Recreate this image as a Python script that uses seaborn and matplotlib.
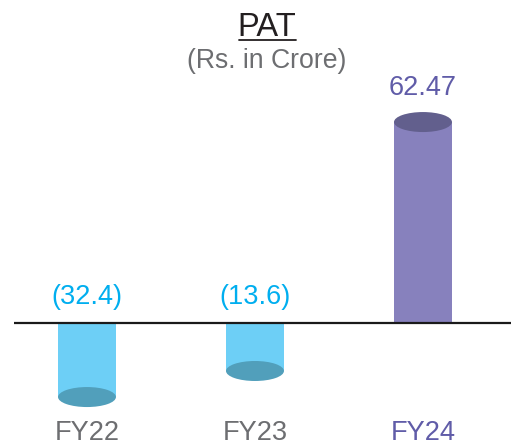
import numpy as np
import pandas as pd
import matplotlib
matplotlib.use("Agg")
import matplotlib.pyplot as plt
from matplotlib.patches import Ellipse
from matplotlib.transforms import IdentityTransform
import seaborn as sns

# ---- data ----
years = ["FY22", "FY23", "FY24"]
pat = [-32.4, -13.6, 62.47]
value_labels = ["(32.4)", "(13.6)", "62.47"]
title = "PAT"
subtitle = "(Rs. in Crore)"

body_colors = ["#6dcff6", "#6dcff6", "#8781bd"]
cap_colors = ["#519fbb", "#519fbb", "#625f8d"]
label_colors = ["#00aeef", "#00aeef", "#605ca8"]
tick_colors = ["#6d6e71", "#6d6e71", "#605ca8"]

sns.set_theme(style="white")
plt.rcParams["font.family"] = ["Liberation Sans", "DejaVu Sans"]

W, H = 511, 445
fig = plt.figure(figsize=(W / 100, H / 100), dpi=100)
ax = fig.add_axes([14 / W, 0, (W - 14) / W, 1])

# piecewise scale (negative side compressed, as in the original artwork)
C = 4.04
def fwd(v):
    v = np.asarray(v, dtype=float)
    return np.where(v >= 0, v, -C * np.sqrt(np.abs(v)))
def inv(u):
    u = np.asarray(u, dtype=float)
    return np.where(u >= 0, u, -(u / C) ** 2)
ax.set_yscale("function", functions=(fwd, inv))

df = pd.DataFrame({"year": years, "pat": pat})
sns.barplot(data=df, x="year", y="pat", hue="year", palette=body_colors,
            width=0.345, legend=False, ax=ax, saturation=1, linewidth=0)

ax.set_xlim(-0.4345, 2.524)
ax.set_ylim(inv(-37.9), 100.4)
ax.axhline(0, color="#1a1a1a", lw=1.6, zorder=3)

for s in ax.spines.values():
    s.set_visible(False)
ax.set_xticks([])
ax.set_yticks([])
ax.set_xlabel("")
ax.set_ylabel("")

fig.canvas.draw()
bar_px_w = ax.transData.transform((0.345, 0))[0] - ax.transData.transform((0, 0))[0]
for i, v in enumerate(pat):
    cx, cy = ax.transData.transform((i, v))
    e = Ellipse((cx, cy), bar_px_w, 20, facecolor=cap_colors[i], edgecolor="none",
                transform=IdentityTransform(), zorder=4)
    ax.add_artist(e)
    # value label
    if v >= 0:
        ax.annotate(value_labels[i], (i, v), xytext=(0, 21), textcoords="offset pixels",
                    ha="center", va="bottom", fontsize=19.5, color=label_colors[i])
    else:
        ax.annotate(value_labels[i], (i, 0), xytext=(0, 13), textcoords="offset pixels",
                    ha="center", va="bottom", fontsize=19.5, color=label_colors[i])
    # category label
    fig.text(cx / W, 1 - 440 / H, years[i], ha="center", va="baseline",
             fontsize=19.6, color=tick_colors[i])

fig.text(267 / W, 1 - 36 / H, title, ha="center", va="baseline", fontsize=23.5,
         color="#231f20")
fig.add_artist(plt.Line2D([238.5 / W, 295.5 / W], [1 - 39.5 / H, 1 - 39.5 / H],
                          color="#231f20", lw=1.3, transform=fig.transFigure))
fig.text(267 / W, 1 - 68 / H, subtitle, ha="center", va="baseline", fontsize=19.2,
         color="#6d6e71")

fig.savefig("out.png", dpi=100)
